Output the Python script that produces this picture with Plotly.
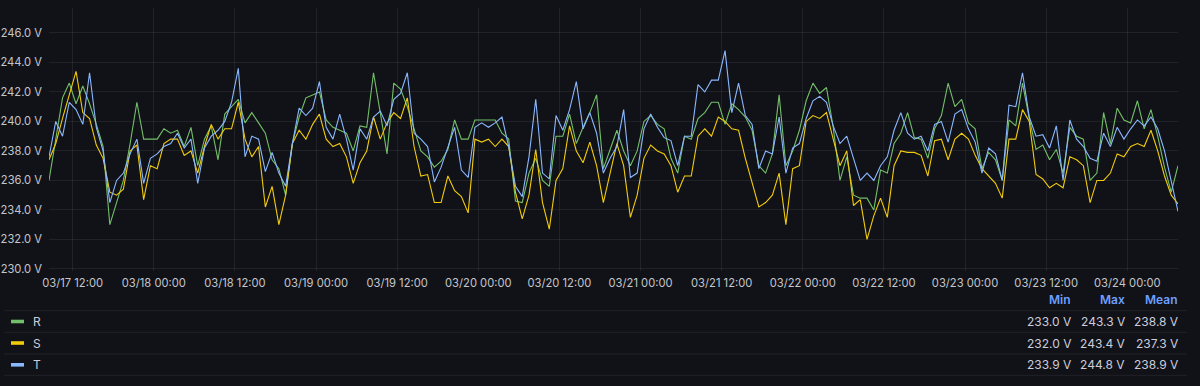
import pandas as pd
import plotly.graph_objects as go

# ---- data (hourly readings, 03/17 08:30 .. 03/24 07:30) ----
start_time = "2024-03-17 08:30"
R = [236.0, 238.8, 241.6, 242.6, 241.2, 242.4, 241.2, 239.8, 238.3, 233.0,
     234.5, 236.0, 238.5, 241.3, 238.8, 238.8, 238.8, 239.5, 239.2, 239.4,
     238.3, 239.6, 237.0, 238.8, 239.7, 237.4, 240.5, 241.0, 241.5, 239.9,
     240.6, 239.9, 239.2, 237.4, 236.8, 235.0, 238.5, 240.3, 241.6, 241.8,
     242.0, 240.1, 239.6, 239.4, 239.2, 238.0, 239.7, 239.6, 243.3, 240.6,
     237.8, 242.6, 242.2, 241.0, 239.5, 238.0, 237.6, 236.9, 237.3, 238.1,
     240.1, 238.8, 238.8, 240.1, 240.1, 240.1, 240.1, 239.2, 238.8, 234.6,
     234.5, 236.5, 237.5, 236.0, 235.6, 239.0, 239.0, 240.5, 238.5, 239.6,
     240.6, 241.8, 236.8, 238.1, 239.4, 238.0, 237.0, 238.0, 240.0, 240.4,
     239.8, 239.5, 237.5, 236.5, 239.0, 238.8, 240.2, 240.6, 241.3, 241.3,
     239.8, 241.2, 240.8, 240.3, 239.4, 237.0, 236.5, 237.8, 241.8, 237.0,
     238.0, 239.4, 241.4, 242.6, 241.9, 242.3, 239.6, 236.0, 237.6, 235.0,
     234.8, 234.8, 234.0, 236.7, 236.5, 238.5, 239.2, 240.6, 238.9, 238.8,
     237.5, 239.5, 240.4, 242.6, 241.0, 241.5, 239.9, 239.5, 236.8, 237.9,
     237.4, 236.0, 240.1, 239.7, 242.6, 240.2, 238.1, 238.4, 237.4, 238.1,
     236.5, 239.6, 239.0, 238.8, 236.0, 236.5, 240.6, 238.5, 240.9, 240.1,
     239.9, 241.4, 239.5, 240.8, 239.0, 236.9, 235.2, 237.0]
S = [237.4, 238.5, 240.2, 241.8, 243.4, 240.6, 240.2, 238.4, 237.5, 235.2,
     235.0, 235.4, 238.0, 238.4, 234.7, 237.0, 236.8, 238.5, 238.8, 238.8,
     237.7, 238.0, 236.5, 238.3, 239.8, 238.8, 239.5, 239.5, 241.3, 238.8,
     237.6, 238.3, 234.2, 235.6, 233.0, 235.0, 238.5, 239.4, 238.8, 239.8,
     240.5, 238.8, 238.3, 238.5, 237.6, 235.8, 237.2, 238.0, 240.3, 238.8,
     239.9, 240.6, 240.2, 241.6, 238.3, 236.3, 236.4, 234.5, 234.5, 236.3,
     235.3, 234.9, 233.8, 238.8, 238.6, 238.8, 238.3, 238.8, 238.3, 235.2,
     233.4, 235.0, 238.1, 234.5, 232.7, 236.0, 236.8, 239.7, 238.0, 237.2,
     238.6, 237.0, 234.5, 236.5, 238.5, 237.0, 233.5, 235.0, 237.5, 238.4,
     238.0, 237.8, 237.0, 235.2, 236.3, 236.3, 239.0, 239.5, 239.0, 240.3,
     240.0, 239.5, 239.4, 237.5, 235.8, 234.2, 234.5, 235.0, 236.5, 233.0,
     236.8, 237.0, 240.0, 240.4, 240.2, 240.6, 238.8, 237.0, 238.0, 234.3,
     234.7, 232.0, 233.6, 234.8, 233.5, 237.0, 238.0, 237.9, 237.9, 237.7,
     236.3, 238.7, 238.8, 237.4, 238.8, 239.2, 238.8, 237.7, 236.8, 236.3,
     235.8, 234.8, 238.8, 238.8, 240.8, 240.0, 236.4, 236.1, 235.5, 235.8,
     235.5, 237.6, 237.4, 237.0, 234.5, 236.0, 236.0, 236.5, 237.8, 237.6,
     238.3, 238.5, 238.3, 239.4, 238.0, 236.3, 235.0, 234.4]
T = [237.6, 240.0, 239.0, 241.3, 240.8, 239.8, 243.3, 239.6, 238.0, 234.5,
     236.0, 236.5, 237.8, 238.8, 235.8, 237.5, 237.8, 238.3, 238.5, 239.2,
     238.2, 238.8, 235.8, 238.2, 239.0, 239.4, 240.0, 241.3, 243.6, 237.6,
     239.0, 238.8, 236.6, 237.9, 236.5, 235.6, 238.5, 240.9, 240.4, 240.9,
     242.7, 239.6, 238.8, 240.5, 238.8, 236.7, 239.5, 238.8, 240.3, 240.7,
     239.7, 241.5, 241.9, 243.3, 239.2, 238.8, 238.3, 235.9, 236.9, 238.3,
     239.6, 236.7, 236.2, 239.6, 239.9, 239.6, 239.9, 240.3, 238.3, 235.6,
     234.9, 237.6, 241.5, 236.5, 236.1, 240.4, 239.4, 240.8, 242.7, 239.5,
     240.6, 239.2, 236.5, 237.5, 238.3, 240.8, 236.2, 236.5, 239.5, 240.5,
     239.6, 238.9, 238.7, 237.0, 239.0, 239.0, 242.5, 242.0, 242.8, 242.8,
     244.8, 240.6, 242.6, 240.4, 239.8, 236.8, 238.0, 237.8, 240.3, 236.5,
     238.2, 238.5, 240.2, 241.4, 241.7, 241.3, 239.7, 238.5, 239.0, 237.5,
     236.0, 236.5, 236.0, 237.0, 237.6, 239.4, 240.6, 239.2, 238.8, 239.0,
     238.0, 239.8, 240.0, 238.6, 240.5, 240.8, 239.5, 238.6, 236.5, 238.2,
     237.8, 236.0, 241.1, 241.0, 243.3, 240.3, 239.0, 239.1, 238.2, 239.7,
     236.0, 240.1, 238.8, 238.3, 237.5, 237.3, 239.2, 238.3, 239.6, 238.8,
     239.5, 240.1, 239.7, 240.3, 239.5, 238.0, 236.0, 233.9]

series_names = ["R", "S", "T"]
series_colors = ["#73BF69", "#F2CC0C", "#8AB8FF"]
stat_headers = ["Min", "Max", "Mean"]
stat_min = ["233.0 V", "232.0 V", "233.9 V"]
stat_max = ["243.3 V", "243.4 V", "244.8 V"]
stat_mean = ["238.8 V", "237.3 V", "238.9 V"]

times = pd.date_range(start_time, periods=len(R), freq="h")

W, H = 1200, 386
ML, MR, MT, MB = 49, 22, 8, 115
PW = W - ML - MR
PH = H - MT - MB
BG = "#111217"
FONT = "Inter, Roboto, sans-serif"
TICK_SIZE = 11.2


def px(x):
    return (x - ML) / PW


def py(y):
    return (H - MB - y) / PH


fig = go.Figure()
for name, vals, col in zip(series_names, [R, S, T], series_colors):
    fig.add_trace(go.Scatter(x=times, y=vals, mode="lines", name=name,
                             line=dict(color=col, width=1.1), hoverinfo="skip"))

shapes = []
annotations = []
# legend separators
for yy in [310.7, 332.3, 354.0, 375.3]:
    shapes.append(dict(type="line", xref="paper", yref="paper",
                       x0=px(4), x1=px(1187), y0=py(yy), y1=py(yy),
                       line=dict(color="#202228", width=1)))
# header
for txt, xr in zip(stat_headers, [1073, 1127, 1180]):
    annotations.append(dict(xref="paper", yref="paper", x=px(xr), y=py(299.5),
                            xanchor="right", yanchor="middle", showarrow=False,
                            text=txt, font=dict(family=FONT, size=12, color="#6E9FFF", weight=600)))
row_y = [321.5, 343.0, 364.8]
for k in range(3):
    yy = row_y[k]
    shapes.append(dict(type="rect", xref="paper", yref="paper",
                       x0=px(11), x1=px(24), y0=py(yy + 1.8), y1=py(yy - 1.8),
                       fillcolor=series_colors[k], line=dict(width=0)))
    annotations.append(dict(xref="paper", yref="paper", x=px(31), y=py(yy),
                            xanchor="left", yanchor="middle", showarrow=False,
                            text=series_names[k], font=dict(family=FONT, size=12, color="#ccccdc")))
    for txt, xr in zip([stat_min[k], stat_max[k], stat_mean[k]], [1073, 1127, 1180]):
        annotations.append(dict(xref="paper", yref="paper", x=px(xr), y=py(yy),
                                xanchor="right", yanchor="middle", showarrow=False,
                                text=txt, font=dict(family=FONT, size=12, color="#ccccdc")))

fig.update_layout(
    width=W, height=H,
    margin=dict(l=ML, r=MR, t=MT, b=MB, autoexpand=False),
    paper_bgcolor=BG, plot_bgcolor=BG,
    showlegend=False,
    shapes=shapes, annotations=annotations,
    font=dict(family=FONT, size=12, color="#ccccdc"),
    xaxis=dict(range=[times[0], times[-1]], type="date", automargin=False,
               tick0="2024-03-17 12:00", dtick=12 * 3600 * 1000,
               tickformat="%m/%d %H:%M", showgrid=True,
               gridcolor="rgba(204,204,220,0.09)", gridwidth=1,
               zeroline=False, showline=False,
               tickfont=dict(family=FONT, size=TICK_SIZE, color="#c4c6cc"),
               ticklabelstandoff=4),
    yaxis=dict(range=[229.86, 247.69], tick0=230, dtick=2, automargin=False,
               tickformat=".1f", ticksuffix=" V", showgrid=True,
               gridcolor="rgba(204,204,220,0.09)", gridwidth=1,
               zeroline=False, showline=False,
               tickfont=dict(family=FONT, size=TICK_SIZE, color="#c4c6cc"),
               ticklabelstandoff=6),
)

fig.write_html("out.html", config={"displayModeBar": False},
               post_script="document.body.style.margin='0';document.body.style.background='#111217';")
